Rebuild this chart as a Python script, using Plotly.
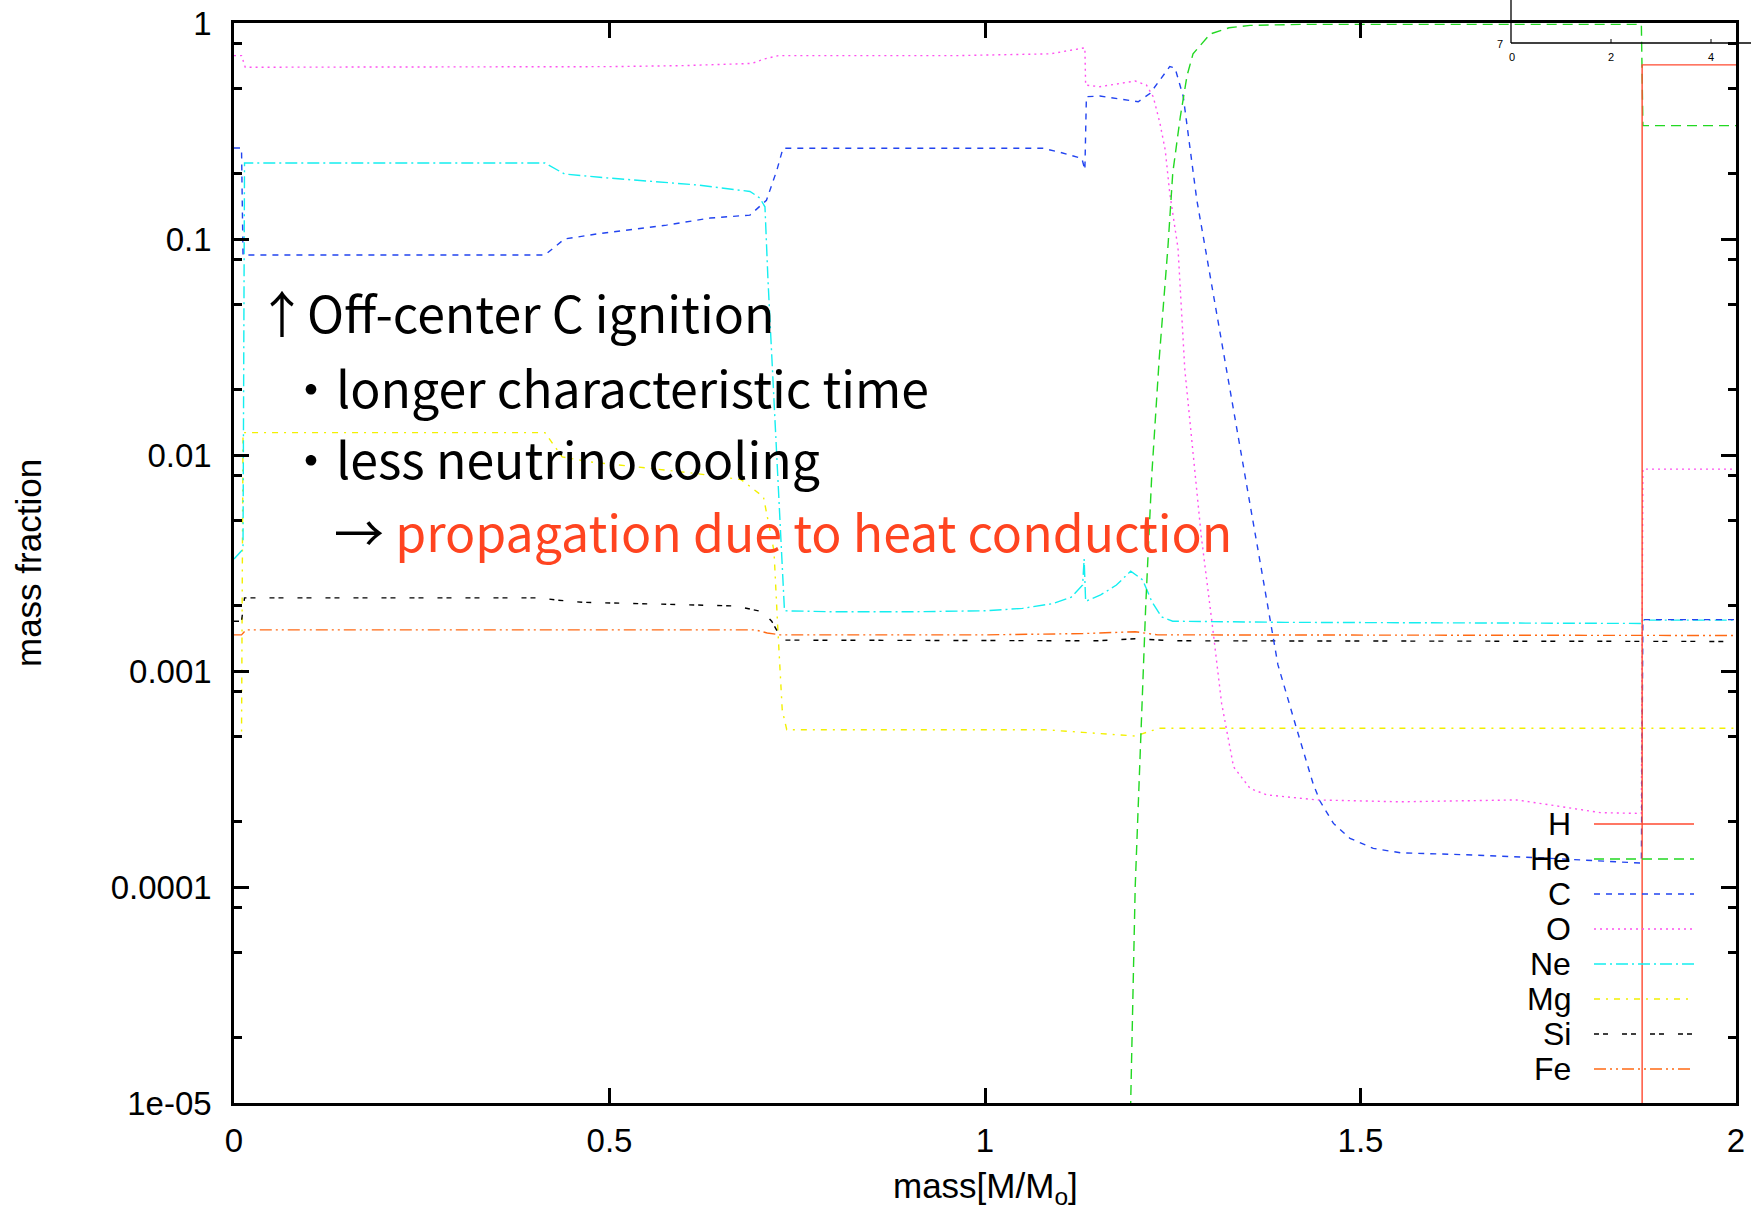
import plotly.graph_objects as go

# ---------------- data ----------------
species = ["H", "He", "C", "O", "Ne", "Mg", "Si", "Fe"]

mass_H = [1.875, 1.875, 2.0]
frac_H = [1e-7, 0.64, 0.64]

mass_He = [1.193, 1.194, 1.200, 1.207, 1.214, 1.222, 1.232, 1.2435, 1.250, 1.260,
           1.269, 1.277, 1.300, 1.325, 1.353, 1.42, 1.874, 1.876, 2.0]
frac_He = [1e-6, 1e-5, 1e-4, 5e-4, 2e-3, 8e-3, 0.028, 0.091, 0.202, 0.367,
           0.570, 0.72, 0.89, 0.95, 0.975, 0.985, 0.985, 0.335, 0.335]

mass_C = [0.0, 0.010, 0.012, 0.414, 0.440, 0.487, 0.576, 0.634, 0.687, 0.692,
          0.709, 0.723, 0.731, 1.077, 1.100, 1.129, 1.133, 1.135, 1.153, 1.204,
          1.220, 1.246, 1.253, 1.264, 1.273, 1.282, 1.293, 1.320, 1.345, 1.370,
          1.390, 1.404, 1.415, 1.437, 1.446, 1.464, 1.486, 1.517, 1.553, 1.641,
          1.730, 1.874, 1.876, 2.0]
frac_C = [0.264, 0.264, 0.0843, 0.0843, 0.100, 0.106, 0.116, 0.125, 0.129, 0.134,
          0.151, 0.209, 0.263, 0.263, 0.252, 0.236, 0.209, 0.456, 0.459, 0.432,
          0.473, 0.628, 0.620, 0.456, 0.258, 0.152, 0.092, 0.027, 0.0085, 0.0027,
          0.00107, 7.2e-4, 5.4e-4, 3.0e-4, 2.5e-4, 1.97e-4, 1.68e-4, 1.51e-4, 1.44e-4, 1.41e-4,
          1.37e-4, 1.29e-4, 1.73e-3, 1.73e-3]

mass_O = [0.0, 0.010, 0.015, 0.414, 0.500, 0.600, 0.690, 0.705, 0.725, 0.960,
          1.000, 1.087, 1.133, 1.134, 1.153, 1.200, 1.215, 1.224, 1.233, 1.240,
          1.246, 1.257, 1.266, 1.288, 1.303, 1.315, 1.331, 1.353, 1.375, 1.442,
          1.553, 1.708, 1.752, 1.819, 1.874, 1.876, 2.0]
frac_O = [0.706, 0.706, 0.624, 0.624, 0.628, 0.635, 0.650, 0.680, 0.706, 0.706,
          0.710, 0.720, 0.768, 0.516, 0.507, 0.539, 0.516, 0.456, 0.343, 0.258,
          0.163, 0.0906, 0.025, 0.0042, 0.0016, 7.1e-4, 3.6e-4, 2.86e-4, 2.67e-4, 2.53e-4,
          2.48e-4, 2.53e-4, 2.40e-4, 2.21e-4, 2.19e-4, 0.0086, 0.0086]

mass_Ne = [0.0, 0.010, 0.012, 0.014, 0.414, 0.440, 0.487, 0.616, 0.687, 0.700,
           0.707, 0.711, 0.733, 0.800, 0.900, 1.000, 1.050, 1.090, 1.115, 1.130,
           1.132, 1.134, 1.154, 1.175, 1.194, 1.210, 1.222, 1.235, 1.250, 1.400,
           1.874, 1.876, 2.0]
frac_Ne = [0.0033, 0.0036, 0.0038, 0.225, 0.225, 0.200, 0.193, 0.178, 0.166, 0.155,
           0.141, 0.065, 0.0019, 0.00188, 0.00188, 0.0019, 0.00195, 0.00205, 0.0022, 0.0025,
           0.0033, 0.0021, 0.00225, 0.0025, 0.0029, 0.00264, 0.0021, 0.00178, 0.0017, 0.00168,
           0.00166, 0.00172, 0.00172]

mass_Mg = [0.0, 0.010, 0.012, 0.414, 0.437, 0.473, 0.538, 0.616, 0.675, 0.705,
           0.711, 0.719, 0.724, 0.730, 0.736, 1.079, 1.130, 1.200, 1.232, 2.0]
frac_Mg = [5.0e-4, 5.0e-4, 0.0127, 0.0127, 0.0098, 0.0093, 0.0088, 0.0082, 0.0077, 0.0064,
           0.0050, 0.0036, 0.0016, 6.6e-4, 5.35e-4, 5.35e-4, 5.2e-4, 5.0e-4, 5.43e-4, 5.43e-4]

mass_Si = [0.0, 0.010, 0.014, 0.408, 0.429, 0.464, 0.566, 0.668, 0.704, 0.716,
           0.730, 1.150, 1.200, 1.250, 2.0]
frac_Si = [0.0017, 0.0017, 0.00218, 0.00218, 0.00213, 0.00208, 0.00204, 0.0020, 0.00188, 0.0017,
           0.00139, 0.00138, 0.00141, 0.00138, 0.00137]

mass_Fe = [0.0, 0.010, 0.016, 0.620, 0.694, 0.710, 0.727, 1.000, 1.130, 1.200, 1.230, 2.0]
frac_Fe = [0.00147, 0.00147, 0.00155, 0.00155, 0.00155, 0.00150, 0.00147, 0.00147, 0.00149, 0.00152,
           0.00147, 0.00146]

y_tickvals = [1e-5, 1e-4, 1e-3, 1e-2, 1e-1, 1]
y_ticktext = ["1e-05", "0.0001", "0.001", "0.01", "0.1", "1"]
x_tickvals = [0, 0.5, 1, 1.5, 2]
x_ticktext = ["0", "0.5", "1", "1.5", "2"]
inset_ticktext = ["0", "2", "4"]

# ---------------- styles ----------------
colors = {"H": "#ff4a30", "He": "#22d822", "C": "#2244f0", "O": "#ff50f0",
          "Ne": "#14eef0", "Mg": "#f2f000", "Si": "#000000", "Fe": "#ff6a14"}
dashes = {"H": "solid", "He": "10px,6px", "C": "6px,6px", "O": "2px,4px",
          "Ne": "12px,4px,2px,4px", "Mg": "6px,6px,2px,6px",
          "Si": "5px,4px,5px,14px", "Fe": "12px,4px,2px,4px,2px,4px"}

series = {"H": (mass_H, frac_H), "He": (mass_He, frac_He), "C": (mass_C, frac_C),
          "O": (mass_O, frac_O), "Ne": (mass_Ne, frac_Ne), "Mg": (mass_Mg, frac_Mg),
          "Si": (mass_Si, frac_Si), "Fe": (mass_Fe, frac_Fe)}

fig = go.Figure()
draw_order = ["Mg", "Si", "Fe", "Ne", "O", "C", "He", "H"]
for name in draw_order:
    xs, ys = series[name]
    fig.add_trace(go.Scatter(x=xs, y=ys, mode="lines", name=name, showlegend=False,
                             line=dict(color=colors[name], width=1.4, dash=dashes[name])))

W, H = 1751, 1209
ml, mr, mt, mb = 234, 15, 23, 106
pw, ph = W - ml - mr, H - mt - mb

def px(xp):
    return (xp - ml) / pw

def py(yp):
    return (H - mb - yp) / ph

shapes = []
annotations = []

# manual legend in gnuplot style (label on the left, sample on the right)
row_y = [824, 859, 894, 929, 964, 999, 1034, 1069]
for name, yy in zip(species, row_y):
    annotations.append(dict(x=px(1573), y=py(yy), xref="paper", yref="paper",
                            text=name, showarrow=False, xanchor="right", yanchor="middle",
                            font=dict(family="Liberation Sans, Arial", size=32, color="black")))
    shapes.append(dict(type="line", xref="paper", yref="paper",
                       x0=px(1594), x1=px(1694), y0=py(yy), y1=py(yy),
                       line=dict(color=colors[name], width=1.4, dash=dashes[name])))

# text annotations
txt_font = dict(family="Noto Sans CJK JP", size=50, color="black")
annotations += [
    dict(x=px(255), y=py(311), xref="paper", yref="paper", showarrow=False,
         xanchor="left", yanchor="middle", text="↑Off-center C ignition", font=txt_font),
    dict(x=px(284), y=py(386), xref="paper", yref="paper", showarrow=False,
         xanchor="left", yanchor="middle", text="・longer characteristic time", font=txt_font),
    dict(x=px(284), y=py(457), xref="paper", yref="paper", showarrow=False,
         xanchor="left", yanchor="middle", text="・less neutrino cooling", font=txt_font),
    dict(x=px(332), y=py(530), xref="paper", yref="paper", showarrow=False,
         xanchor="left", yanchor="middle",
         text="→ <span style='color:#ff4420'>propagation due to heat conduction</span>",
         font=txt_font),
]

# axis titles
annotations.append(dict(x=0.5, y=py(1188), xref="paper", yref="paper", showarrow=False,
                        xanchor="center", yanchor="middle", text="mass[M/M<sub>o</sub>]",
                        font=dict(family="Liberation Sans, Arial", size=35, color="black")))
annotations.append(dict(x=px(28), y=0.5, xref="paper", yref="paper", showarrow=False,
                        xanchor="center", yanchor="middle", text="mass fraction", textangle=-90,
                        font=dict(family="Liberation Sans, Arial", size=35, color="black")))

# stray inset frame from a neighbouring plot (top right corner)
shapes.append(dict(type="line", xref="paper", yref="paper", x0=px(1511), x1=px(1511),
                   y0=py(-2), y1=py(43), line=dict(color="black", width=1.3)))
shapes.append(dict(type="line", xref="paper", yref="paper", x0=px(1511), x1=px(1753),
                   y0=py(43), y1=py(43), line=dict(color="black", width=1.3)))
for xx in [1611, 1711]:
    shapes.append(dict(type="line", xref="paper", yref="paper", x0=px(xx), x1=px(xx),
                       y0=py(39), y1=py(43), line=dict(color="black", width=1.0)))
annotations.append(dict(x=px(1500), y=py(44), xref="paper", yref="paper", showarrow=False,
                        xanchor="center", yanchor="middle", text="7",
                        font=dict(family="Liberation Sans, Arial", size=11, color="black")))
for xx, t in zip([1512, 1611, 1711], inset_ticktext):
    annotations.append(dict(x=px(xx), y=py(57), xref="paper", yref="paper", showarrow=False,
                            xanchor="center", yanchor="middle", text=t,
                            font=dict(family="Liberation Sans, Arial", size=11, color="black")))

minor_y = []
for e in range(-5, 0):
    for m in (2, 5, 8):
        minor_y.append(m * 10 ** e)

fig.update_layout(
    width=W, height=H,
    margin=dict(l=ml, r=mr, t=mt, b=mb, autoexpand=False),
    paper_bgcolor="white", plot_bgcolor="white",
    shapes=shapes, annotations=annotations,
    showlegend=False,
    xaxis=dict(range=[0, 2], tickvals=x_tickvals, ticktext=x_ticktext, automargin=False,
               showgrid=False, zeroline=False, showline=True, linecolor="black", linewidth=2.5,
               mirror="ticks", ticks="inside", ticklen=15, tickwidth=2.5, tickcolor="black",
               ticklabelstandoff=7,
               tickfont=dict(family="Liberation Sans, Arial", size=33, color="black")),
    yaxis=dict(type="log", range=[-5, 0], tickvals=y_tickvals, ticktext=y_ticktext,
               automargin=False,
               showgrid=False, zeroline=False, showline=True, linecolor="black", linewidth=2.5,
               mirror="ticks", ticks="inside", ticklen=15, tickwidth=2.5, tickcolor="black",
               ticklabelstandoff=13,
               minor=dict(tickvals=minor_y, ticks="inside", ticklen=8, tickwidth=2.5,
                          tickcolor="black", showgrid=False),
               tickfont=dict(family="Liberation Sans, Arial", size=33, color="black")),
)

fig.write_html("out.html")
